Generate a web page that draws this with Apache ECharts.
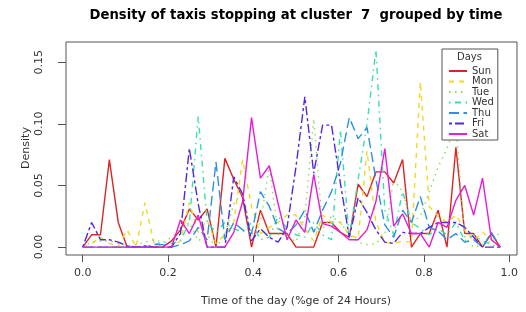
<!DOCTYPE html>
<html><head><meta charset="utf-8">
<script src="https://cdn.jsdelivr.net/npm/echarts@6/dist/echarts.min.js"></script>
<style>html,body{margin:0;padding:0;background:#fff}#c{width:526px;height:312px}</style>
</head><body><div id="c"></div>
<script>
const days = ['Sun','Mon','Tue','Wed','Thu','Fri','Sat'];
const nBins = 48;
const xTicks = [0, 0.2, 0.4, 0.6, 0.8, 1.0];
const yTicks = [0, 0.05, 0.10, 0.15];

const sun = [0,0.01,0.01,0.071,0.02,0,0,0,0,0,
  0.005,0.014,0.031,0.022,0.031,0,0.072,0.055,0.04,0,
  0.03,0.011,0.011,0.011,0,0,0,0.02,0.02,0.012,
  0.008,0.051,0.041,0.061,0.061,0.052,0.071,0,0.011,0.011,
  0.03,0,0.081,0.011,0.011,0,0.011,0];
const mon = [0,0.003,0.008,0.003,0.001,0.014,0,0.036,0.004,0,
  0,0.005,0.036,0.012,0.022,0.003,0.01,0.02,0.071,0.033,
  0.011,0.016,0.02,0.026,0.026,0.015,0.005,0.026,0.02,0.02,
  0.01,0.007,0.078,0.02,0.004,0.003,0.005,0.004,0.134,0.033,
  0.025,0.02,0.026,0.015,0.005,0.012,0.006,0];
const tue = [0,0.004,0.005,0.005,0.003,0.001,0.002,0.004,0.006,0.004,
  0.008,0.015,0.02,0.005,0.01,0,0.01,0.035,0.045,0.01,
  0.02,0.065,0.01,0.01,0.004,0.025,0.104,0.015,0.025,0.02,
  0.01,0.004,0.002,0.003,0.01,0.055,0.045,0.02,0.025,0.045,
  0.065,0.08,0.1,0.008,0,0.002,0.005,0.012];
const wed = [0,0,0,0,0,0,0,0,0.002,0.004,
  0.003,0.005,0.02,0.106,0.02,0.012,0.02,0.015,0.012,0.02,
  0.006,0.008,0.025,0.015,0.01,0.008,0.02,0.01,0.006,0.095,
  0.008,0.055,0.1,0.16,0.03,0.01,0.045,0.02,0.015,0.01,
  0.015,0.01,0.02,0.005,0.01,0.005,0.002,0];
const thu = [0,0,0,0,0,0,0,0,0.002,0.002,
  0,0.002,0.005,0.016,0.006,0.069,0.006,0.02,0.014,0.011,
  0.045,0.033,0.015,0.011,0.018,0.03,0.012,0.03,0.045,0.068,
  0.105,0.088,0.097,0.055,0.018,0.008,0.03,0.02,0.041,0.016,
  0.013,0.006,0.011,0.004,0.006,0,0.012,0];
const fri = [0,0.02,0.006,0.006,0.004,0.001,0,0.001,0,0,
  0,0.011,0.08,0.035,0,0,0,0.057,0.043,0.005,
  0.015,0.008,0.004,0.016,0.065,0.122,0.06,0.099,0.099,0.052,
  0.008,0.04,0.028,0.014,0.004,0.003,0.012,0.011,0.011,0.016,
  0.02,0.02,0.02,0.016,0.008,0,0,0];
const sat = [0,0,0,0,0,0,0,0,0,0,
  0,0.022,0.011,0.026,0,0,0,0.012,0.037,0.105,
  0.056,0.066,0.035,0.006,0.022,0.012,0.059,0.019,0.017,0.012,
  0.006,0.006,0.014,0.037,0.08,0.017,0.027,0.011,0.011,0,
  0.02,0.016,0.038,0.05,0.026,0.056,0.006,0];

const values = [sun, mon, tue, wed, thu, fri, sat];
const colors = ['#dd2424','#f0d828','#86df5c','#38e0b0','#2f8fe4','#5426dc','#e81cd6'];
const dashes = ['solid',[5,5],[1.5,4.5],[1.5,4.5,6,4.5],[10,4.5],[3,3,9,3],'solid'];
const font = 'DejaVu Sans';

const chart = echarts.init(document.getElementById('c'), null, {renderer:'canvas'});
chart.setOption({
  animation: false,
  grid: {left: 66, right: 9, top: 42, bottom: 57, show: true, borderColor: '#555', borderWidth: 1, backgroundColor: 'transparent'},
  xAxis: {
    type: 'value', min: -0.0392, max: 1.0183,
    axisLine: {show: false, onZero: false},
    splitLine: {show: false},
    axisTick: {show: true, inside: false, length: 7, customValues: xTicks, lineStyle: {color: '#555'}},
    axisLabel: {customValues: xTicks, formatter: v => v.toFixed(1), margin: 13, fontSize: 11, color: '#333', fontFamily: font}
  },
  yAxis: {
    type: 'value', min: -0.0064, max: 0.1664,
    axisLine: {show: false, onZero: false},
    splitLine: {show: false},
    axisTick: {show: true, inside: false, length: 8, customValues: yTicks, lineStyle: {color: '#555'}},
    axisLabel: {customValues: yTicks, formatter: v => v.toFixed(2), rotate: 90, margin: 21, fontSize: 11, color: '#333', fontFamily: font}
  },
  legend: {
    orient: 'vertical', left: 442, top: 49,
    backgroundColor: '#fff', borderColor: '#555', borderWidth: 1,
    padding: [17, 4, 1, 6],
    itemWidth: 18, itemHeight: 8, itemGap: 0.5,
    itemStyle: {opacity: 0, borderWidth: 0},
    textStyle: {fontSize: 10, lineHeight: 10, color: '#333', fontFamily: font},
    data: days, z: 10
  },
  graphic: [
    {type: 'text', x: 296, y: 16, z: 100, style: {text: 'Density of taxis stopping at cluster  7  grouped by time', fill: '#000', font: 'bold 13.2px "DejaVu Sans"', align: 'center', verticalAlign: 'middle'}},
    {type: 'text', x: 296, y: 301, z: 100, style: {text: 'Time of the day (%ge of 24 Hours)', fill: '#333', font: '11px "DejaVu Sans"', align: 'center', verticalAlign: 'middle'}},
    {type: 'text', x: 26, y: 148, rotation: Math.PI / 2, z: 100, style: {text: 'Density', fill: '#333', font: '11px "DejaVu Sans"', align: 'center', verticalAlign: 'middle'}},
    {type: 'text', x: 469.5, y: 57.5, z: 100, style: {text: 'Days', fill: '#333', font: '10px "DejaVu Sans"', align: 'center', verticalAlign: 'middle'}}
  ],
  series: days.map((d, k) => ({
    name: d, type: 'line', symbol: 'none', z: 2,
    color: colors[k],
    lineStyle: {color: colors[k], width: 1.4, type: dashes[k]},
    data: values[k].map((v, i) => [i / nBins, v])
  }))
});
</script></body></html>
